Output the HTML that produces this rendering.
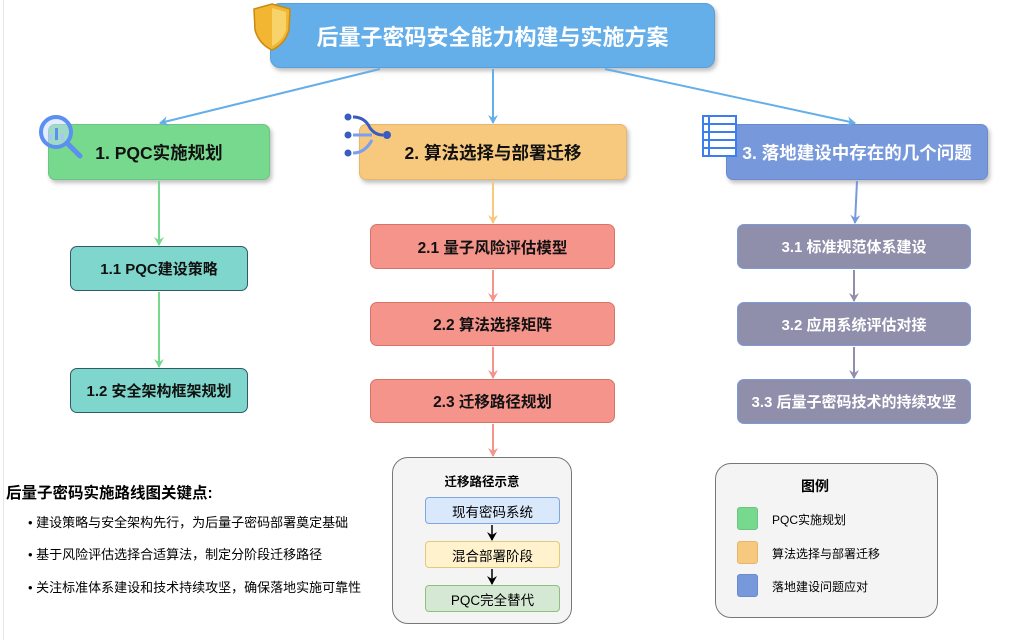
<!DOCTYPE html>
<html><head><meta charset="utf-8"><style>
body{margin:0;width:1024px;height:640px;background:#fff;position:relative;overflow:hidden;font-family:"Liberation Sans","Noto Sans CJK SC",sans-serif;}
.b{position:absolute;box-sizing:border-box;display:flex;align-items:center;justify-content:center;font-weight:bold;border-radius:7px;}
.s{box-shadow:2px 3px 4px rgba(0,0,0,0.25);}
.t{position:absolute;white-space:nowrap;}
svg{position:absolute;left:0;top:0;}
</style></head><body>
<div style="position:absolute;left:3px;top:0;width:1px;height:640px;background:#e8e8e8"></div>
<div class="b s" style="left:270px;top:3px;width:445px;height:65px;background:#64aeea;border:1px solid #5a9fd8;color:#fff;font-size:22px;border-radius:10px">后量子密码安全能力构建与实施方案</div>
<div class="b s" style="left:48px;top:124px;width:222px;height:56px;background:#77d98e;border:1px solid #6cc383;font-size:17.5px;color:#111">1. PQC实施规划</div>
<div class="b s" style="left:359px;top:124px;width:268px;height:56px;background:#f7c97e;border:1px solid #e5b66c;font-size:17.5px;color:#111">2. 算法选择与部署迁移</div>
<div class="b s" style="left:726px;top:124px;width:262px;height:56px;background:#7898dc;border:1px solid #6a8ad0;font-size:17.5px;color:#fff">3. 落地建设中存在的几个问题</div>

<div class="b" style="left:70px;top:246px;width:178px;height:45px;background:#7fd6cc;border:1px solid #2f5a66;font-size:15px;color:#111">1.1 PQC建设策略</div>
<div class="b" style="left:70px;top:368px;width:178px;height:45px;background:#7fd6cc;border:1px solid #2f5a66;font-size:15px;color:#111">1.2 安全架构框架规划</div>

<div class="b" style="left:370px;top:224px;width:245px;height:45px;background:#f4948a;border:1px solid #d97366;font-size:15.5px;color:#111">2.1 量子风险评估模型</div>
<div class="b" style="left:370px;top:302px;width:245px;height:44px;background:#f4948a;border:1px solid #d97366;font-size:15.5px;color:#111">2.2 算法选择矩阵</div>
<div class="b" style="left:370px;top:379px;width:245px;height:44px;background:#f4948a;border:1px solid #d97366;font-size:15.5px;color:#111">2.3 迁移路径规划</div>

<div class="b" style="left:737px;top:224px;width:234px;height:45px;background:#8f8fab;border:1px solid #7a9ad8;font-size:15px;color:#fff">3.1 标准规范体系建设</div>
<div class="b" style="left:737px;top:302px;width:234px;height:44px;background:#8f8fab;border:1px solid #7a9ad8;font-size:15px;color:#fff">3.2 应用系统评估对接</div>
<div class="b" style="left:737px;top:379px;width:234px;height:45px;background:#8f8fab;border:1px solid #7a9ad8;font-size:15px;color:#fff">3.3 后量子密码技术的持续攻坚</div>

<div style="position:absolute;left:392px;top:457px;width:180px;height:167px;box-sizing:border-box;background:#f4f4f4;border:1px solid #777;border-radius:16px"></div>
<div class="t" style="left:392px;width:180px;text-align:center;top:471px;font-size:12.5px;font-weight:bold">迁移路径示意</div>
<div class="b" style="left:425px;top:497px;width:135px;height:27px;background:#dae8fc;border:1px solid #7ea6e0;border-radius:4px;font-weight:normal;font-size:13.5px">现有密码系统</div>
<div class="b" style="left:425px;top:541px;width:135px;height:27px;background:#fff2cc;border:1px solid #e3c97a;border-radius:4px;font-weight:normal;font-size:13.5px">混合部署阶段</div>
<div class="b" style="left:425px;top:585px;width:135px;height:27px;background:#d5e8d4;border:1px solid #8fbf7f;border-radius:4px;font-weight:normal;font-size:13.5px">PQC完全替代</div>

<div style="position:absolute;left:715px;top:463px;width:223px;height:155px;box-sizing:border-box;background:#f4f4f4;border:1px solid #777;border-radius:16px"></div>
<div class="t" style="left:715px;width:200px;text-align:center;top:476px;font-size:14px;font-weight:bold">图例</div>
<div style="position:absolute;left:737px;top:507px;width:21px;height:23px;background:#77d98e;border:1px solid #6cc383;border-radius:3px;box-sizing:border-box"></div>
<div style="position:absolute;left:737px;top:541px;width:21px;height:23px;background:#f7c97e;border:1px solid #e5b66c;border-radius:3px;box-sizing:border-box"></div>
<div style="position:absolute;left:737px;top:574px;width:21px;height:23px;background:#7898dc;border:1px solid #6a8ad0;border-radius:3px;box-sizing:border-box"></div>
<div class="t" style="left:772px;top:511px;font-size:12px">PQC实施规划</div>
<div class="t" style="left:772px;top:545px;font-size:12px">算法选择与部署迁移</div>
<div class="t" style="left:772px;top:578px;font-size:12px">落地建设问题应对</div>

<div class="t" style="left:6px;top:481px;font-size:15.5px;font-weight:bold">后量子密码实施路线图关键点:</div>
<div class="t" style="left:28px;top:512px;font-size:13px">• 建设策略与安全架构先行，为后量子密码部署奠定基础</div>
<div class="t" style="left:28px;top:544px;font-size:13px">• 基于风险评估选择合适算法，制定分阶段迁移路径</div>
<div class="t" style="left:28px;top:577px;font-size:13px">• 关注标准体系建设和技术持续攻坚，确保落地实施可靠性</div>

<svg width="1024" height="640">
<defs>
<marker id="mb" markerWidth="10" markerHeight="10" refX="8" refY="5" orient="auto" markerUnits="userSpaceOnUse"><path d="M0,0 L9,5 L0,10 L3,5z" fill="#64aeea"/></marker>
<marker id="mg" markerWidth="10" markerHeight="10" refX="8" refY="5" orient="auto" markerUnits="userSpaceOnUse"><path d="M0,0 L9,5 L0,10 L3,5z" fill="#77d98e"/></marker>
<marker id="mo" markerWidth="10" markerHeight="10" refX="8" refY="5" orient="auto" markerUnits="userSpaceOnUse"><path d="M0,0 L9,5 L0,10 L3,5z" fill="#f7c97e"/></marker>
<marker id="mr" markerWidth="10" markerHeight="10" refX="8" refY="5" orient="auto" markerUnits="userSpaceOnUse"><path d="M0,0 L9,5 L0,10 L3,5z" fill="#f4948a"/></marker>
<marker id="mv" markerWidth="10" markerHeight="10" refX="8" refY="5" orient="auto" markerUnits="userSpaceOnUse"><path d="M0,0 L9,5 L0,10 L3,5z" fill="#7898dc"/></marker>
<marker id="mp" markerWidth="10" markerHeight="10" refX="8" refY="5" orient="auto" markerUnits="userSpaceOnUse"><path d="M0,0 L9,5 L0,10 L3,5z" fill="#8f8fab"/></marker>
<marker id="mk" markerWidth="10" markerHeight="10" refX="8" refY="5" orient="auto" markerUnits="userSpaceOnUse"><path d="M0,0 L9,5 L0,10 L3,5z" fill="#000"/></marker>
</defs>
<g stroke-width="2" fill="none">
<line x1="380" y1="69" x2="160" y2="123" stroke="#64aeea" marker-end="url(#mb)"/>
<line x1="493" y1="69" x2="493" y2="123" stroke="#64aeea" marker-end="url(#mb)"/>
<line x1="605" y1="69" x2="855" y2="123" stroke="#64aeea" marker-end="url(#mb)"/>
<line x1="159" y1="181" x2="159" y2="245" stroke="#77d98e" marker-end="url(#mg)"/>
<line x1="159" y1="292" x2="159" y2="367" stroke="#77d98e" marker-end="url(#mg)"/>
<line x1="493" y1="181" x2="493" y2="223" stroke="#f7c97e" marker-end="url(#mo)"/>
<line x1="493" y1="270" x2="493" y2="301" stroke="#f4948a" marker-end="url(#mr)"/>
<line x1="493" y1="347" x2="493" y2="378" stroke="#f4948a" marker-end="url(#mr)"/>
<line x1="493" y1="424" x2="493" y2="456" stroke="#f4948a" marker-end="url(#mr)"/>
<line x1="857" y1="181" x2="855" y2="223" stroke="#7898dc" marker-end="url(#mv)"/>
<line x1="854" y1="270" x2="854" y2="301" stroke="#8f8fab" marker-end="url(#mp)"/>
<line x1="854" y1="347" x2="854" y2="378" stroke="#8f8fab" marker-end="url(#mp)"/>
<line x1="492" y1="525" x2="492" y2="540" stroke="#000" stroke-width="1.5" marker-end="url(#mk)"/>
<line x1="492" y1="569" x2="492" y2="584" stroke="#000" stroke-width="1.5" marker-end="url(#mk)"/>
</g>
<path d="M272,4 L290,9 L289,30 Q285,44 272,50 Q259,44 255,30 L254,9 Z" fill="#f2b632" stroke="#c98a10" stroke-width="1.5"/>
<path d="M272,8 L272,46 Q283,40 286,30 L286,12 Z" fill="#f8d36a"/>
<circle cx="56" cy="132" r="15" fill="rgba(200,220,255,0.5)" stroke="#5b8ff0" stroke-width="4"/>
<line x1="67" y1="143" x2="80" y2="156" stroke="#5b8ff0" stroke-width="5" stroke-linecap="round"/>
<rect x="55" y="128" width="3" height="12" fill="#5b8ff0"/><rect x="49" y="134" width="3" height="6" fill="#a8c4f8"/><rect x="61" y="134" width="3" height="6" fill="#a8c4f8"/>
<circle cx="348" cy="117" r="3.5" fill="#3a5cc0"/><circle cx="348" cy="135" r="3.5" fill="#3a5cc0"/><circle cx="348" cy="153" r="3.5" fill="#3a5cc0"/><circle cx="387" cy="135" r="4" fill="#3a5cc0"/>
<path d="M353,117 Q365,117 370,128 Q375,135 383,135" stroke="#3a5cc0" stroke-width="3" fill="none"/>
<path d="M353,135 L372,135 M353,153 Q365,153 372,140" stroke="#7a9ef0" stroke-width="3" fill="none"/>
<rect x="703" y="116" width="33" height="40" fill="#fff" stroke="#3a7ef0" stroke-width="2"/>
<g stroke="#3a7ef0" stroke-width="2"><line x1="709" y1="116" x2="709" y2="156"/><line x1="703" y1="124" x2="736" y2="124"/><line x1="703" y1="132" x2="736" y2="132"/><line x1="703" y1="140" x2="736" y2="140"/><line x1="703" y1="148" x2="736" y2="148"/></g>
</svg>
</body></html>
